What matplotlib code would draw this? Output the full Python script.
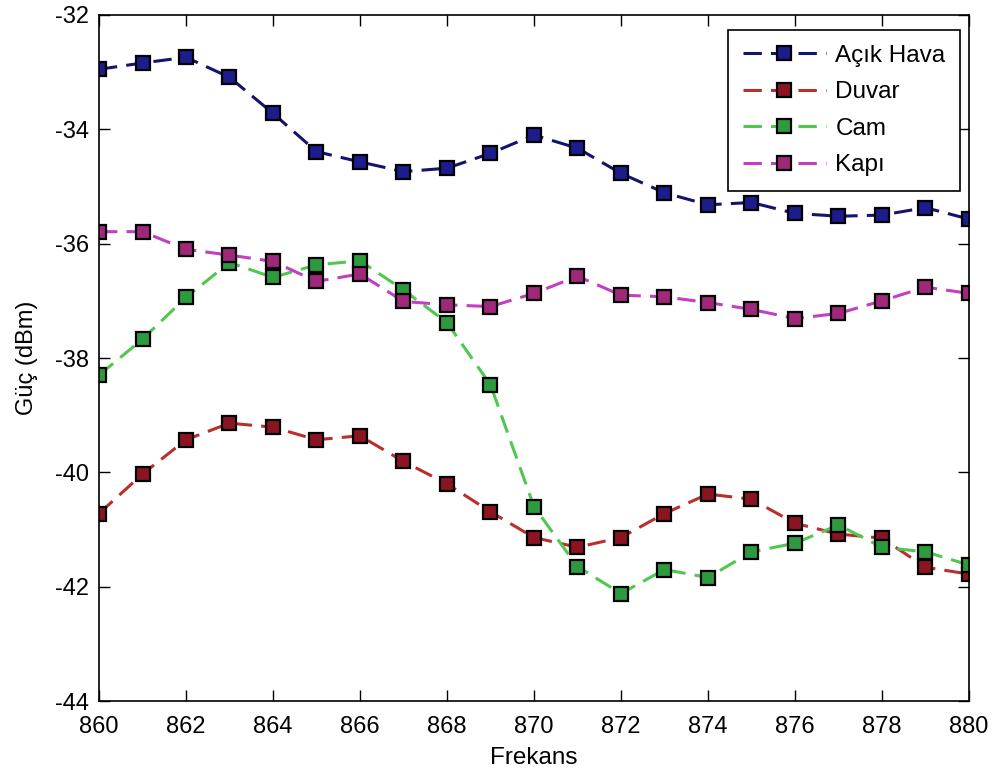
import matplotlib
matplotlib.use("Agg")
import matplotlib.pyplot as plt
import numpy as np

plt.rcParams["font.family"] = ["Liberation Sans", "DejaVu Sans"]
plt.rcParams["axes.unicode_minus"] = False

# Frekans ekseni ve ölçülen güç değerleri (dBm)
frekans = np.arange(860, 881)

acik_hava = [-32.95, -32.84, -32.74, -33.09, -33.72, -34.39, -34.57, -34.74, -34.68, -34.42,
             -34.10, -34.33, -34.77, -35.11, -35.32, -35.28, -35.47, -35.52, -35.50, -35.37, -35.57]
duvar = [-40.72, -40.03, -39.43, -39.14, -39.21, -39.43, -39.36, -39.81, -40.20, -40.69,
         -41.14, -41.31, -41.14, -40.72, -40.38, -40.47, -40.89, -41.08, -41.15, -41.66, -41.78]
cam = [-38.30, -37.67, -36.94, -36.33, -36.59, -36.37, -36.30, -36.81, -37.38, -38.47,
       -40.60, -41.65, -42.12, -41.70, -41.84, -41.39, -41.24, -40.92, -41.31, -41.39, -41.62]
kapi = [-35.79, -35.79, -36.10, -36.20, -36.31, -36.66, -36.53, -37.01, -37.07, -37.10,
        -36.87, -36.57, -36.90, -36.93, -37.03, -37.15, -37.31, -37.22, -37.00, -36.76, -36.87]

series = [
    ("Açık Hava", acik_hava, "#14146e", "#1c1c8c"),
    ("Duvar", duvar, "#b8302c", "#8a1420"),
    ("Cam", cam, "#50c850", "#2e9a3e"),
    ("Kapı", kapi, "#c040c0", "#a0287a"),
]

fig = plt.figure(figsize=(9.93, 7.76), dpi=100)
ax = fig.add_axes([0.0997, 0.0966, 0.8761, 0.8841])

for label, vals, lc, fc in series:
    ax.plot(frekans, vals, linestyle="--", dashes=(6, 3), color=lc, lw=2.2,
            marker="s", markersize=9.5, markerfacecolor=fc, markeredgecolor="black",
            markeredgewidth=1.6, label=label)

ax.set_xlim(860, 880)
ax.set_ylim(-44, -32)
ax.set_xticks(np.arange(860, 881, 2))
ax.set_yticks(np.arange(-44, -31, 2))
ax.tick_params(direction="in", length=8, width=1, top=True, right=True,
               labelsize=17, colors="black")
ax.tick_params(axis="x", pad=11)
ax.tick_params(axis="y", pad=7)
for s in ax.spines.values():
    s.set_linewidth(1.2)

ax.set_xlabel("Frekans", fontsize=17.5, labelpad=6)
ax.set_ylabel("Güç (dBm)", fontsize=17, labelpad=12)

leg = ax.legend(loc="upper right", bbox_to_anchor=(0.9897, 0.978), borderaxespad=0,
                fontsize=17.5, handlelength=3.4, numpoints=1, fancybox=False,
                framealpha=1, edgecolor="black", borderpad=0.6, labelspacing=0.6,
                handletextpad=0.4)
leg.get_frame().set_linewidth(1.2)

fig.savefig("out.png", dpi=100, facecolor="white")
